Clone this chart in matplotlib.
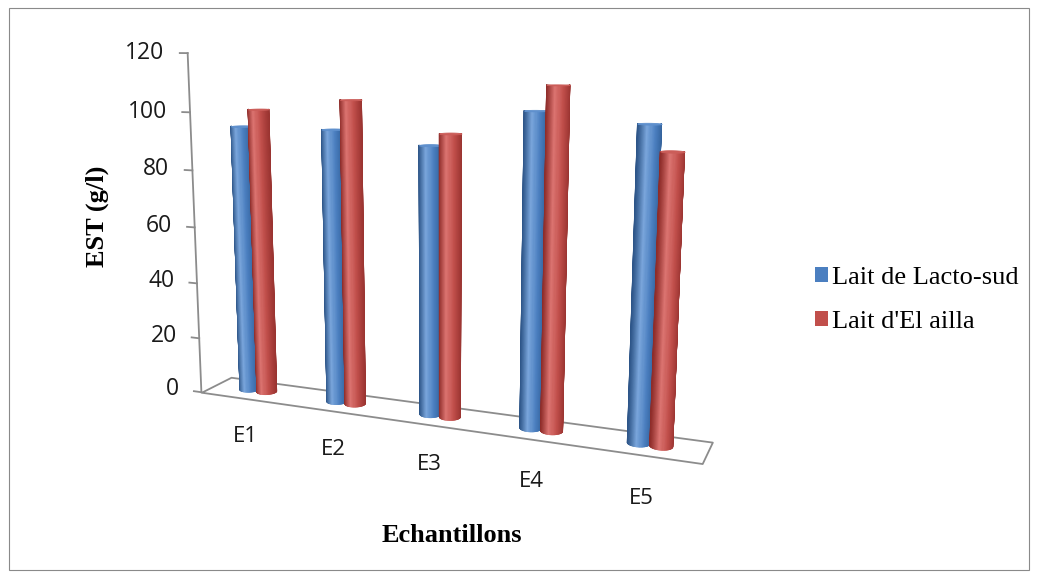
import numpy as np
import matplotlib
matplotlib.use("Agg")
import matplotlib.pyplot as plt
import matplotlib.colors as mcolors
from matplotlib.patches import Patch, Rectangle
from mpl_toolkits.mplot3d.art3d import Poly3DCollection


# =========================
# Données
# =========================
categories = ["E1", "E2", "E3", "E4", "E5"]
lacto_sud = [95, 95, 91, 103, 100]
el_ailla = [101, 105, 95, 111, 92]
series_names = ["Lait de Lacto-sud", "Lait d'El ailla"]
y_ticks = [0, 20, 40, 60, 80, 100, 120]

# couleurs Excel 2007 : (bord gauche, reflet, milieu, bord droit)
BLUE = ["#2d5588", "#7aa6dc", "#4b7fc0", "#33619a"]
RED = ["#8e2c29", "#dc7471", "#c14f4b", "#9a3431"]
CAP_BLUE = "#5f90cd"
CAP_RED = "#cb5d59"
GRAY = "#8c8c8c"

# =========================
# Vue 3D (type Excel)
# =========================
ELEV, AZIM = 10.4, -67.6
RX, RY = 0.1, 0.185        # rayon des cylindres (unités x / y)
Y0 = 0.5                   # profondeur des cylindres

fig = plt.figure(figsize=(10.37, 5.78), dpi=100)
ax = fig.add_axes([0.1083, 0.0171, 0.6156, 1.1045], projection="3d",
                  computed_zorder=False)
ax.set_proj_type("persp", focal_length=0.3214)
ax.view_init(elev=ELEV, azim=AZIM)
ax.set_box_aspect((1.382, 0.150, 0.935))
ax.set_axis_off()
ax.patch.set_alpha(0)
ax.set_xlim(0, 5)
ax.set_ylim(0, 1)
ax.set_zlim(0, 120)
ax.set_autoscale_on(False)

M = ax.get_proj()
view = np.array([np.cos(np.deg2rad(AZIM)), np.sin(np.deg2rad(AZIM))])
right = np.array([-view[1], view[0]])


def label3d(x, y, z, s, **kw):
    # texte 2D placé au point 3D projeté
    p = M @ np.array([x, y, z, 1.0])
    ax.text2D(p[0] / p[3], p[1] / p[3], s, **kw)


def cylinder(xc, h, shades, cap_color, z0):
    th = np.linspace(0, 2 * np.pi, 97)
    stops = [mcolors.to_rgb(c) for c in shades]
    pos = [-1.0, -0.35, 0.3, 1.0]
    polys, cols = [], []
    for a, b in zip(th[:-1], th[1:]):
        m = 0.5 * (a + b)
        n = np.array([np.cos(m), np.sin(m)])
        if n @ view < -0.1:
            continue
        s = np.clip(n @ right, -1, 1)
        c = [np.interp(s, pos, [st[i] for st in stops]) for i in range(3)]
        xa, ya = xc + RX * np.cos(a), Y0 + RY * np.sin(a)
        xb, yb = xc + RX * np.cos(b), Y0 + RY * np.sin(b)
        polys.append([(xa, ya, 0), (xb, yb, 0), (xb, yb, h), (xa, ya, h)])
        cols.append(c)
    body = Poly3DCollection(polys, facecolors=cols, edgecolors=cols, linewidths=0.5)
    body.set_zorder(z0)
    ax.add_collection3d(body, autolim=False)
    cap = [(xc + RX * np.cos(t), Y0 + RY * np.sin(t), h) for t in th]
    top = Poly3DCollection([cap], facecolors=cap_color, edgecolors=cap_color,
                           linewidths=0.6)
    top.set_zorder(z0 + 0.1)
    ax.add_collection3d(top, autolim=False)


# sol
floor = Poly3DCollection([[(0, 0, 0), (5, 0, 0), (5, 1, 0), (0, 1, 0)]],
                         facecolors="white", edgecolors=GRAY, linewidths=1.3)
floor.set_zorder(1)
ax.add_collection3d(floor, autolim=False)

# axe des valeurs
ax.plot([0, 0], [0, 0], [0, y_ticks[-1]], color=GRAY, lw=1.3, zorder=2)
for v in y_ticks:
    ax.plot([0, -0.09], [0, 0], [v, v], color=GRAY, lw=1.3, zorder=2)
    label3d(-0.27, 0, v, str(v), ha="right", va="center", fontsize=16.5,
            family="Open Sans", color="#1a1a1a", zorder=10)

# cylindres
for i, cat in enumerate(categories):
    cylinder(i + 0.5 - RX, lacto_sud[i], BLUE, CAP_BLUE, 3 + i)
    cylinder(i + 0.5 + RX, el_ailla[i], RED, CAP_RED, 3.5 + i)
    label3d(i + 0.5, 0, -14, cat, ha="center", va="center", fontsize=16,
            family="Open Sans", color="#1a1a1a", zorder=10)

# titres des axes
fig.text(97 / 1037, 1 - 216 / 578, "EST (g/l)", rotation=90, fontsize=19,
         fontweight="bold", family="Liberation Serif", ha="center", va="center")
fig.text(452 / 1037, 1 - 535 / 578, "Echantillons", fontsize=19,
         fontweight="bold", family="Liberation Serif", ha="center", va="center")

# légende
handles = [Patch(facecolor=BLUE[2]), Patch(facecolor=RED[2])]
fig.legend(handles, series_names, loc="center left", bbox_to_anchor=(0.786, 0.481),
           frameon=False, prop={"family": "Liberation Serif", "size": 19},
           handlelength=0.5, handleheight=0.5, handletextpad=0.15,
           labelspacing=0.85, borderpad=0, borderaxespad=0)

# cadre du graphique
fig.add_artist(Rectangle((9 / 1037, 8 / 578), 1020 / 1037, 562 / 578,
                         transform=fig.transFigure, fill=False,
                         edgecolor="#8a8a8a", lw=0.8))

fig.savefig("out.png", dpi=100)
